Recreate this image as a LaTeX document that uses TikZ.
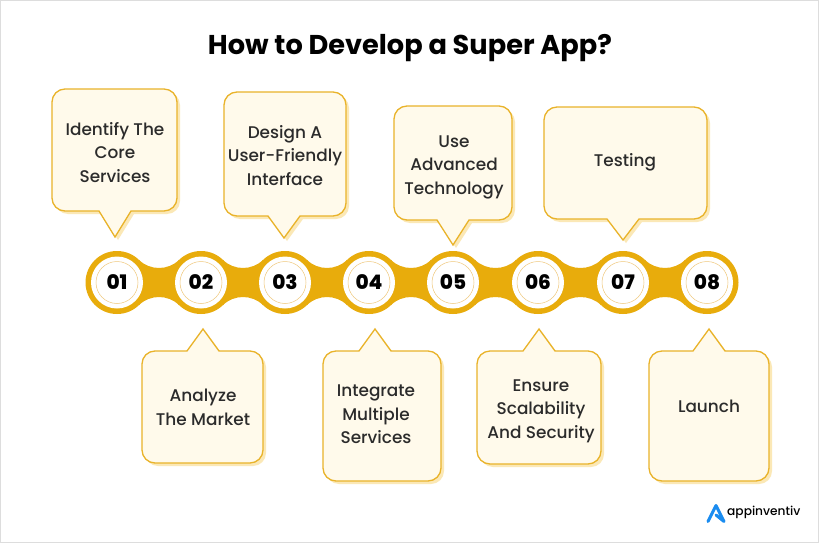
\documentclass[tikz,border=0pt]{standalone}
\usepackage{fontspec}
\setmainfont{Poppins}
\newfontfamily\medfont{Poppins Medium}
\newfontfamily\heavyfont{Poppins ExtraBold}
\usetikzlibrary{calc}
\definecolor{chainc}{HTML}{E8AC0C}
\definecolor{boxc}{HTML}{FFFAEB}
\definecolor{boxline}{HTML}{E9B32A}
\definecolor{boxshade}{HTML}{FBE8B6}
\definecolor{ringc}{HTML}{EFC77A}
\definecolor{inkc}{HTML}{2B2B2B}
\definecolor{logoc}{HTML}{1A8CF0}
\definecolor{framec}{HTML}{DDDDDD}
\tikzset{
  stepcirc/.style={circle,fill=white,minimum size=52pt,inner sep=0pt,font=\heavyfont\fontsize{20}{20}\selectfont,text=black},
  steplabel/.style={align=center,text=inkc,font=\medfont\fontsize{16.9}{23.5}\selectfont},
  titlelabel/.style={font=\bfseries\fontsize{27.2}{29}\selectfont,text=black},
  logolabel/.style={font=\medfont\fontsize{12.2}{13}\selectfont,text=black,inner sep=0pt,anchor=west}
}
\begin{document}
\begin{tikzpicture}[x=1pt,y=-1pt]
 \useasboundingbox (0,0) rectangle (819,543);
 \draw[framec,fill=white,line width=2pt] (0,0) rectangle (819,543);
 \node[titlelabel] (title) at (410,48.5) {How to Develop a Super App?};
 % callouts: left/right/base y/far y/tip x/tip y/label x/label y
 \foreach \l/\r/\by/\fy/\tx/\ty/\lx/\ly/\name/\txt in {
   52/177/211/89/115/237/115/152.5/b1/{Identify The\\Core\\Services},
   142/263/351/463/203/329/203/407.5/b2/{Analyze\\The Market},
   224/346/216/92/284/238/285/155.5/b3/{Design A\\User-Friendly\\Interface},
   323/441/351/481/375/329/376/414.5/b4/{Integrate\\Multiple\\Services},
   394/512/220/106/453/245/454/167/b5/{Use\\Advanced\\Technology},
   477/601/351/464/539/329/541/411/b6/{Ensure\\Scalability\\And Security},
   544/707/219/107/623/240/625/162/b7/{Testing},
   649/769/351/481/709/329/709/406/b8/{Launch}} {
  \fill[boxshade,rounded corners=13,shift={(3,3)}] (\tx-16,\by) -- (\l,\by) -- (\l,\fy) -- (\r,\fy) -- (\r,\by) [sharp corners] -- (\tx+16,\by) -- (\tx,\ty) -- cycle;
  \draw[boxline,fill=boxc,line width=1.3pt,rounded corners=13] (\tx-16,\by) -- (\l,\by) -- (\l,\fy) -- (\r,\fy) -- (\r,\by) [sharp corners] -- (\tx+16,\by) -- (\tx,\ty) -- cycle;
  \node[steplabel] (\name) at (\lx,\ly) {\txt};
 }
 % chain
 \foreach \i/\x in {1/117,2/201,3/285,4/369,5/453,6/538,7/623,8/707} {
  \coordinate (c\i) at (\x,282.5);
  \fill[chainc] (c\i) circle (31.5);
 }
 \foreach \i/\j in {1/2,2/3,3/4,4/5,5/6,6/7,7/8} {
  \fill[chainc] ($(c\i)+(21.9,-22.6)$) .. controls ($(c\i)+(33.1,-11.8)$) and ($(c\j)+(-33.1,-11.8)$) .. ($(c\j)+(-21.9,-22.6)$)
    -- ($(c\j)+(-21.9,22.6)$) .. controls ($(c\j)+(-33.1,11.8)$) and ($(c\i)+(33.1,11.8)$) .. ($(c\i)+(21.9,22.6)$) -- cycle;
 }
 \foreach \i/\num in {1/01,2/02,3/03,4/04,5/05,6/06,7/07,8/08} {
  \node[stepcirc] (n\i) at (c\i) {\num};
  \draw[ringc,line width=.5pt] (c\i) circle (21);
 }
 % logo
 \draw[logoc,line width=3pt,line join=round,line cap=round] (708,521.5) -- (716,505.5) -- (724,521.5) -- (716,515);
 \node[logolabel] (logo) at (727,512) {appinventiv};
\end{tikzpicture}
\end{document}
